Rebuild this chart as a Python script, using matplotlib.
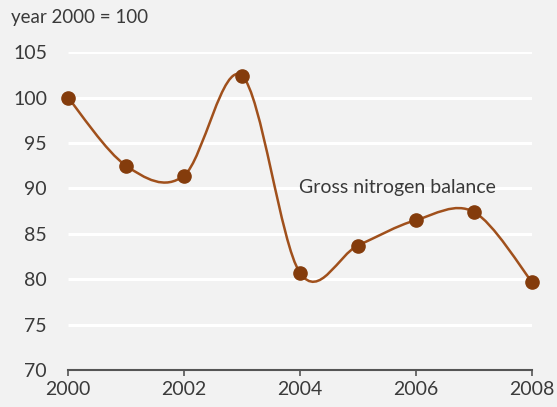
import numpy as np
import matplotlib.pyplot as plt
from matplotlib.path import Path
from matplotlib.patches import PathPatch

plt.rcParams['font.family'] = ['Lato', 'DejaVu Sans']

years = [2000, 2001, 2002, 2003, 2004, 2005, 2006, 2007, 2008]
balance = [100, 92.5, 91.4, 102.4, 80.7, 83.7, 86.5, 87.4, 79.7]
xticks = [2000, 2002, 2004, 2006, 2008]
yticks = [70, 75, 80, 85, 90, 95, 100, 105]

line_col = '#a0501c'
dot_col = '#843c0c'
text_col = '#3a3a3a'
bg = '#f2f2f2'

fig = plt.figure(figsize=(5.57, 4.07), dpi=100, facecolor=bg)
ax = fig.add_axes([0.122, 0.091, 0.833, 0.781], facecolor=bg)


def smooth_path(x, y):
    # Excel-like smoothed line: cubic bezier segments (Catmull-Rom)
    x = np.asarray(x, float)
    y = np.asarray(y, float)
    n = len(x)
    verts = [(x[0], y[0])]
    codes = [Path.MOVETO]
    for i in range(n - 1):
        p0 = max(i - 1, 0)
        p3 = min(i + 2, n - 1)
        c1 = (x[i] + (x[i + 1] - x[p0]) / 6, y[i] + (y[i + 1] - y[p0]) / 6)
        c2 = (x[i + 1] - (x[p3] - x[i]) / 6, y[i + 1] - (y[p3] - y[i]) / 6)
        verts += [c1, c2, (x[i + 1], y[i + 1])]
        codes += [Path.CURVE4] * 3
    return Path(verts, codes)


# white gridlines, only across the plot area
ax.hlines(yticks[1:], years[0], years[-1], colors='white', lw=2.2, zorder=1)

ax.add_patch(PathPatch(smooth_path(years, balance), facecolor='none',
                       edgecolor=line_col, lw=1.8, zorder=3))
ax.plot(years, balance, 'o', color=dot_col, ms=9.5, zorder=4, clip_on=False)

ax.set_xlim(2000, 2008)
ax.set_ylim(70, 105)
ax.set_xticks(xticks)
ax.set_yticks(yticks)
for s in ['left', 'right', 'top']:
    ax.spines[s].set_visible(False)
ax.spines['bottom'].set_color('#555555')
ax.spines['bottom'].set_linewidth(1.5)
ax.spines['bottom'].set_zorder(5)
ax.tick_params(axis='x', length=4, width=1.2, color='#555555', labelsize=14,
               labelcolor=text_col, pad=4)
ax.tick_params(axis='y', length=0, labelsize=14, labelcolor=text_col, pad=15)

fig.text(0.02, 0.957, 'year 2000 = 100', fontsize=13.5, color=text_col, va='center')
ax.text(2003.98, 90.1, 'Gross nitrogen balance', fontsize=14, color=text_col,
        va='center')

fig.savefig('out.png', dpi=100, facecolor=bg)
